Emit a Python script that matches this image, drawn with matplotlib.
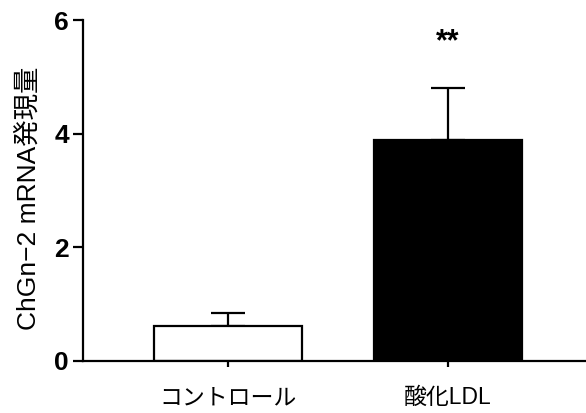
import matplotlib
matplotlib.use("Agg")
import matplotlib.pyplot as plt

categories = ["コントロール", "酸化LDL"]
values = [0.62, 3.89]
errors = [0.23, 0.92]
colors = ["white", "black"]
yticks = [0, 2, 4, 6]
ylabel = "ChGn−2 mRNA発現量"
signif = "**"

plt.rcParams['font.family'] = ['Liberation Sans', 'Noto Sans CJK JP', 'DejaVu Sans']

fig = plt.figure(figsize=(5.86, 4.13), dpi=100)
ax = fig.add_axes([83/586, 1-361/413, 1-83/586, (361-20)/413])

x = list(range(len(categories)))
ax.bar(x, values, width=0.67, color=colors, edgecolor="black", linewidth=1.6, zorder=2)
for xi, v, e in zip(x, values, errors):
    ax.errorbar([xi], [v], yerr=[[0], [e]], fmt='none', ecolor='black',
                elinewidth=1.6, capsize=12, capthick=1.6, zorder=1)

ax.text(x[1], values[1] + errors[1] + 0.8, signif, ha='center', va='center',
        fontsize=22, fontweight='bold')

ax.set_xlim(-0.659, 1.627)
ax.set_ylim(0, 6)
ax.set_yticks(yticks)
ax.set_yticklabels([str(t) for t in yticks], fontsize=19, fontweight='bold')
ax.set_xticks(x)
ax.set_xticklabels(categories, fontsize=16.5)
ax.set_ylabel(ylabel, fontsize=19)
ax.yaxis.set_label_coords(-0.085, 0.478)

for s in ['top', 'right']:
    ax.spines[s].set_visible(False)
for s in ['left', 'bottom']:
    ax.spines[s].set_linewidth(1.6)
ax.tick_params(axis='y', length=7, width=1.6, pad=3)
ax.tick_params(axis='x', length=4, width=1.6, pad=14)

fig.savefig("out.png", dpi=100)
